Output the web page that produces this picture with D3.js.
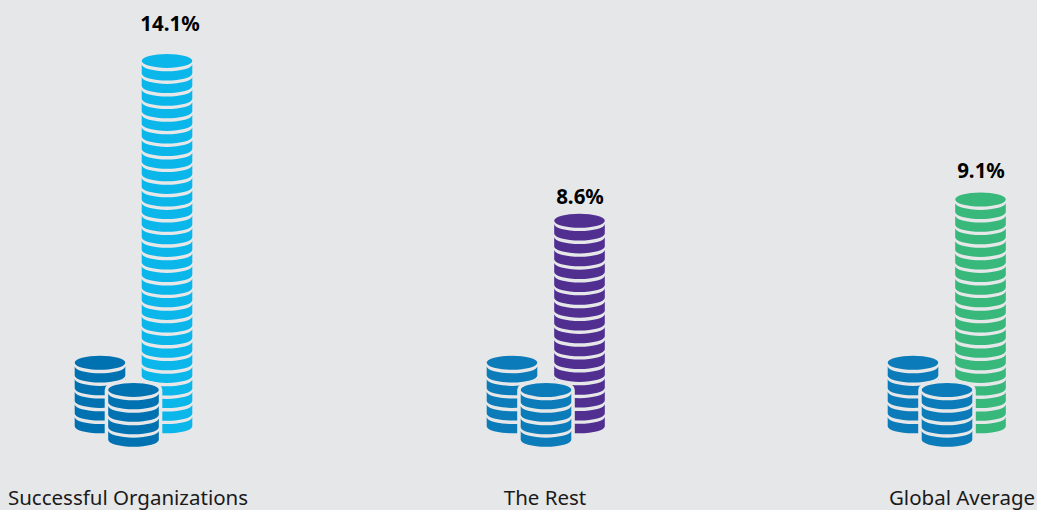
<!DOCTYPE html>
<html><head><meta charset="utf-8">
<script src="https://cdn.jsdelivr.net/npm/d3@7/dist/d3.min.js"></script>
<style>html,body{margin:0;padding:0;background:#e6e7e9}svg{display:block}</style>
</head><body>
<svg id="c" width="1037" height="510"></svg>
<script>
const categories = ["Successful Organizations", "The Rest", "Global Average"];
const valueLabels = ["14.1%", "8.6%", "9.1%"];
const coinCounts = [29, 16, 18];
const backCoins = [5, 5, 5];
const frontCoins = [4, 4, 4];
const stackColors = ["#0bb7ea", "#512f91", "#39b87c"];
const baseColors = ["#0071b1", "#0b7cb9", "#0b7cb9"];

const W = 1037, H = 510, BG = "#e6e7e9";
const tallShift = [39, 34.5, 18.5], backShift = [-28, -33, -49], frontShift = [5.5, 1, -15];
const labelShift = [3, 0.5, 0.5];
const labelGap = [23, 9.7, 14.5], tallPitch = [12.6, 12.85, 12.6];
const rx = 25.3, ry = 7, gap = 3.4, floorY = 433.3, frontFloorY = 446.7;

const svg = d3.select("#c");
svg.append("rect").attr("width", W).attr("height", H).attr("fill", BG);

const x = d3.scalePoint().domain(categories).range([128, 962]);
const coinScale = (floor, pitch) => d3.scaleLinear().domain([0, 1]).range([floor, floor - pitch]);
const yBack = coinScale(floorY, 12.7);
const yFront = coinScale(frontFloorY, 12.45);

function stackPaths(cx, n, yScale) {
  const top = yScale(n), L = cx - rx, R = cx + rx;
  const p = [`M${L},${top - ry}A${rx},${ry} 0 1 1 ${R},${top - ry}A${rx},${ry} 0 1 1 ${L},${top - ry}Z`];
  for (let k = 0; k < n; k++) {
    const bot = yScale(k) - ry, upper = yScale(k + 1) - ry + gap;
    p.push(`M${L},${upper}A${rx},${ry} 0 0 0 ${R},${upper}V${bot}A${rx},${ry} 0 0 1 ${L},${bot}Z`);
  }
  return p.join("");
}
function silhouette(cx, n, yScale) {
  const top = yScale(n) - ry, bot = yScale(0) - ry, L = cx - rx, R = cx + rx;
  return `M${L},${top}A${rx},${ry} 0 0 1 ${R},${top}V${bot}A${rx},${ry} 0 0 1 ${L},${bot}Z`;
}

categories.forEach((c, i) => {
  const g = svg.append("g");
  const cx = x(c);
  const yTall = coinScale(floorY, tallPitch[i]);
  g.append("path").attr("d", stackPaths(cx + tallShift[i], coinCounts[i], yTall)).attr("fill", stackColors[i]);
  g.append("path").attr("d", stackPaths(cx + backShift[i], backCoins[i], yBack)).attr("fill", baseColors[i]);
  g.append("path").attr("d", silhouette(cx + frontShift[i], frontCoins[i], yFront))
    .attr("fill", BG).attr("stroke", BG).attr("stroke-width", 7);
  g.append("path").attr("d", stackPaths(cx + frontShift[i], frontCoins[i], yFront)).attr("fill", baseColors[i]);
  const topY = yTall(coinCounts[i]) - 2 * ry;
  g.append("text").attr("x", cx + tallShift[i] + labelShift[i]).attr("y", topY - labelGap[i])
    .attr("text-anchor", "middle").attr("font-family", "'Noto Sans'").attr("font-weight", 700)
    .attr("font-size", 20.5).attr("fill", "#000").text(valueLabels[i]);
  g.append("text").attr("x", cx).attr("y", 505)
    .attr("text-anchor", "middle").attr("font-family", "'Noto Sans'")
    .attr("font-size", 20.5).attr("fill", "#1a1a1a").text(c);
});
</script>
</body></html>
